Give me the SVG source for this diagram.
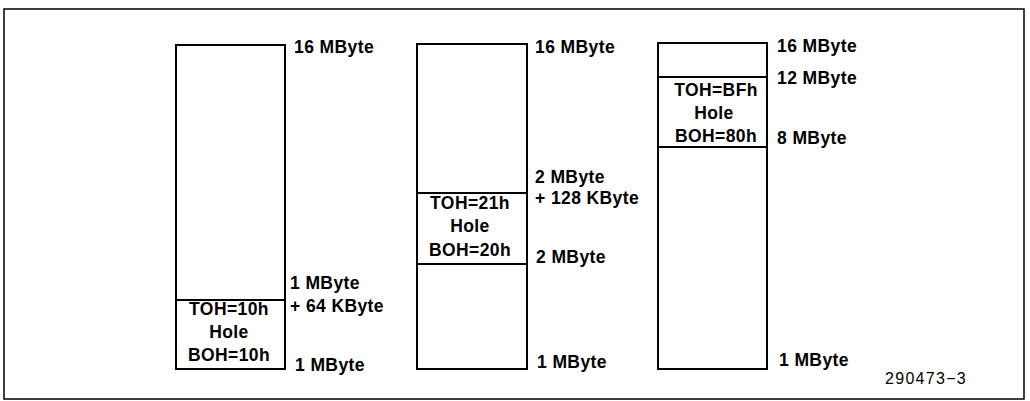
<svg xmlns="http://www.w3.org/2000/svg" width="1030" height="401" viewBox="0 0 1030 401">
<style>
.box{fill:#fff;stroke:#000;stroke-width:2}
.div{stroke:#000;stroke-width:2}
.frame{fill:none;stroke:#000;stroke-width:1.5}
text{font-family:"Liberation Sans",Arial,sans-serif;font-weight:bold;font-size:17.5px;letter-spacing:0.4px;fill:#000}
.c{text-anchor:middle}
.cap{font-weight:normal;font-size:16px;letter-spacing:1.3px}
</style>
<rect class="frame" x="4" y="9" width="1020" height="390"/>
<g id="map1">
<rect class="box" x="176" y="45" width="109" height="324"/>
<line class="div" x1="176" y1="300" x2="285" y2="300"/>
<text class="c" x="229" y="315">TOH=10h</text>
<text class="c" x="229" y="338">Hole</text>
<text class="c" x="229" y="361">BOH=10h</text>
<text x="294" y="53">16 MByte</text>
<text x="290" y="289">1 MByte</text>
<text x="290" y="312">+ 64 KByte</text>
<text x="295" y="371">1 MByte</text>
</g>
<g id="map2">
<rect class="box" x="417" y="44" width="110" height="325"/>
<line class="div" x1="417" y1="193" x2="527" y2="193"/>
<line class="div" x1="417" y1="264" x2="527" y2="264"/>
<text class="c" x="470" y="209">TOH=21h</text>
<text class="c" x="470" y="232">Hole</text>
<text class="c" x="470" y="256">BOH=20h</text>
<text x="535" y="53">16 MByte</text>
<text x="535" y="183">2 MByte</text>
<text x="535" y="204">+ 128 KByte</text>
<text x="536" y="263">2 MByte</text>
<text x="537" y="368">1 MByte</text>
</g>
<g id="map3">
<rect class="box" x="658" y="43" width="109" height="326"/>
<line class="div" x1="658" y1="77" x2="767" y2="77"/>
<line class="div" x1="658" y1="147" x2="767" y2="147"/>
<text class="c" x="716" y="96">TOH=BFh</text>
<text class="c" x="714" y="119">Hole</text>
<text class="c" x="716" y="142">BOH=80h</text>
<text x="777" y="52">16 MByte</text>
<text x="777" y="84">12 MByte</text>
<text x="777" y="144">8 MByte</text>
<text x="779" y="366">1 MByte</text>
</g>
<text class="cap" x="885" y="384">290473−3</text>
</svg>
